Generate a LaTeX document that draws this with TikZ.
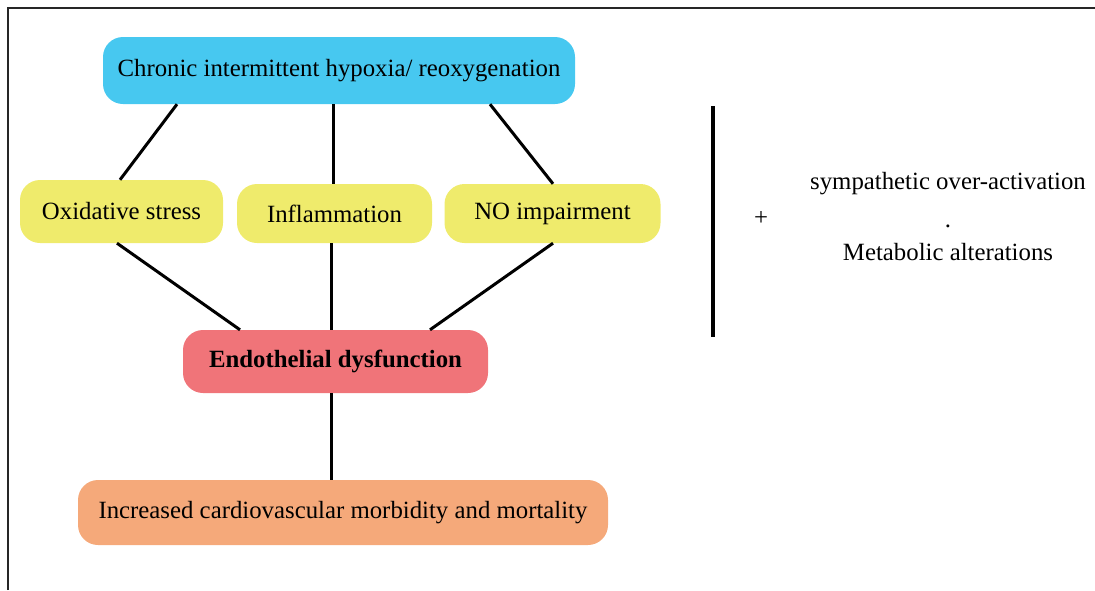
\documentclass[tikz,border=0pt]{standalone}
\usepackage{fontspec}
\setmainfont{Liberation Serif}
\usetikzlibrary{calc}
\definecolor{cblue}{HTML}{47C8F0}
\definecolor{cyellow}{HTML}{EFEB6C}
\definecolor{cred}{HTML}{F07479}
\definecolor{corange}{HTML}{F5A97A}
\begin{document}
\begin{tikzpicture}[x=1pt,y=-1pt,
  box/.style={rounded corners=20pt,inner sep=0pt,align=center,
    font=\fontsize{24.8}{29}\selectfont},
  link/.style={line width=3pt,black},
  plain/.style={inner sep=0pt,font=\fontsize{24.8}{29}\selectfont}]
\useasboundingbox (0,0) rectangle (1095,590);
\draw[line width=1.4pt,black!85] (8,590) -- (8,8) -- (1095,8);
\node[box,fill=cblue,minimum width=472pt,minimum height=67pt] (top) at (339,70.5) {Chronic intermittent hypoxia/ reoxygenation};
\node[box,fill=cyellow,minimum width=203pt,minimum height=63pt] (ox) at (121.5,211.5) {Oxidative stress};
\node[box,fill=cyellow,minimum width=195pt,minimum height=59pt] (inf) at (334.5,213.5) {Inflammation};
\node[box,fill=cyellow,minimum width=216pt,minimum height=59pt] (no) at (552.5,213.5) {NO impairment};
\node[box,fill=cred,minimum width=305pt,minimum height=63pt,font=\fontsize{24.8}{29}\selectfont\bfseries] (endo) at (335.5,361.5) {Endothelial dysfunction};
\node[box,fill=corange,minimum width=530pt,minimum height=65pt] (out) at (343,512.5) {Increased cardiovascular morbidity and mortality};
\draw[link] ($(top.south)+(-162,0)$) -- ($(ox.north)+(-1.5,0)$);
\draw[link] ($(top.south)+(-6,0)$) -- ($(inf.north)+(-1.5,0)$);
\draw[link] ($(top.south)+(151,0)$) -- ($(no.north)+(0.5,0)$);
\draw[link] ($(ox.south)+(-4.5,0)$) -- ($(endo.north)+(-95.5,0)$);
\draw[link] ($(inf.south)+(-3.5,0)$) -- ($(endo.north)+(-4.5,0)$);
\draw[link] ($(no.south)+(0.5,0)$) -- ($(endo.north)+(94.5,0)$);
\draw[link] ($(endo.south)+(-4.5,0)$) -- ($(out.north)+(-12,0)$);
\coordinate (bart) at (713,106);
\coordinate (barb) at (713,337);
\draw[line width=4pt] (bart) -- (barb);
\node[plain] (plus) at (761,218) {+};
\node[plain] (symp) at (948,184) {sympathetic over-activation};
\node[plain] (dot) at (948,226) {.};
\node[plain] (meta) at (948,252) {Metabolic alterations};
\end{tikzpicture}
\end{document}
